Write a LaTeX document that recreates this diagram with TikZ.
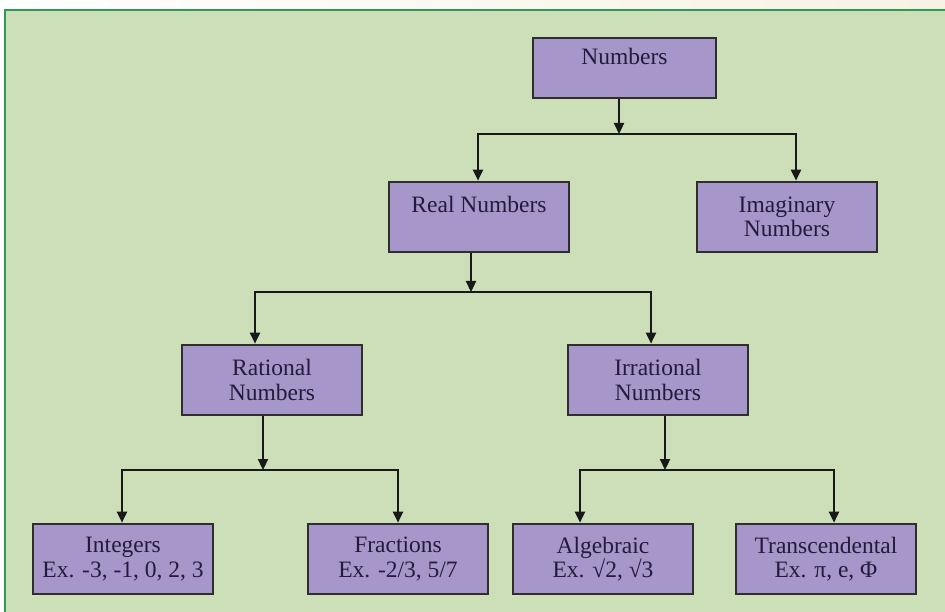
\documentclass[tikz,border=0pt]{standalone}
\usepackage{fontspec}
\setmainfont{Liberation Serif}
\usetikzlibrary{arrows.meta,calc}
\definecolor{cream}{HTML}{F7F2E4}
\definecolor{bggreen}{HTML}{CDDFB9}
\definecolor{framegreen}{HTML}{2E9B55}
\definecolor{boxfill}{HTML}{A696C9}
\definecolor{boxline}{HTML}{2E2E2E}
\definecolor{txt}{HTML}{221C3C}
\begin{document}
\begin{tikzpicture}[x=1pt,y=-1pt,
  box/.style={draw=boxline,line width=2.6pt,fill=boxfill,rectangle,inner sep=0pt,
    minimum width=180pt,minimum height=70pt,align=center,text=txt,
    font=\fontsize{23.5}{24.5}\selectfont},
  arr/.style={draw=black!90,line width=2.3pt,-{Triangle[length=11pt,width=10pt]}}]
\useasboundingbox (0,0) rectangle (945,612);
\shade[left color=white,right color=cream] (0,0) rectangle (945,612);
\draw[framegreen,line width=2pt,fill=bggreen] (5,10) rectangle (960,630);

\node[box,minimum width=183pt,minimum height=60pt] (numbers) at (624.5,68) {Numbers\\[-2pt]~};
\node[box] (real) at (479,217) {Real Numbers\\~};
\node[box] (imag) at (787,217) {Imaginary\\Numbers};
\node[box] (rational) at (272,380) {Rational\\Numbers};
\node[box] (irrational) at (658,380) {Irrational\\Numbers};
\node[box] (integers) at (123,559) {Integers\\Ex. -3, -1, 0, 2, 3};
\node[box] (fractions) at (398,559) {Fractions\\Ex. -2/3, 5/7};
\node[box] (algebraic) at (603,559) {Algebraic\\Ex. √2, √3};
\node[box] (trans) at (826,559) {Transcendental\\Ex. π, e, Φ};

\coordinate (j1) at (619,134);
\coordinate (j2) at (471,292);
\coordinate (j3) at (263,470);
\coordinate (j4) at (665,470);

\draw[arr] (numbers.south -| j1) -- (j1);
\draw[arr] (j1) -| ([xshift=-1pt]real.north);
\draw[arr] (j1) -| ([xshift=9pt]imag.north);

\draw[arr] (real.south -| j2) -- (j2);
\draw[arr] (j2) -| ([xshift=-17pt]rational.north);
\draw[arr] (j2) -| ([xshift=-7pt]irrational.north);

\draw[arr] (rational.south -| j3) -- (j3);
\draw[arr] (j3) -| ([xshift=-1pt]integers.north);
\draw[arr] (j3) -| (fractions.north);

\draw[arr] (irrational.south -| j4) -- (j4);
\draw[arr] (j4) -| ([xshift=-23pt]algebraic.north);
\draw[arr] (j4) -| ([xshift=8pt]trans.north);
\end{tikzpicture}
\end{document}
